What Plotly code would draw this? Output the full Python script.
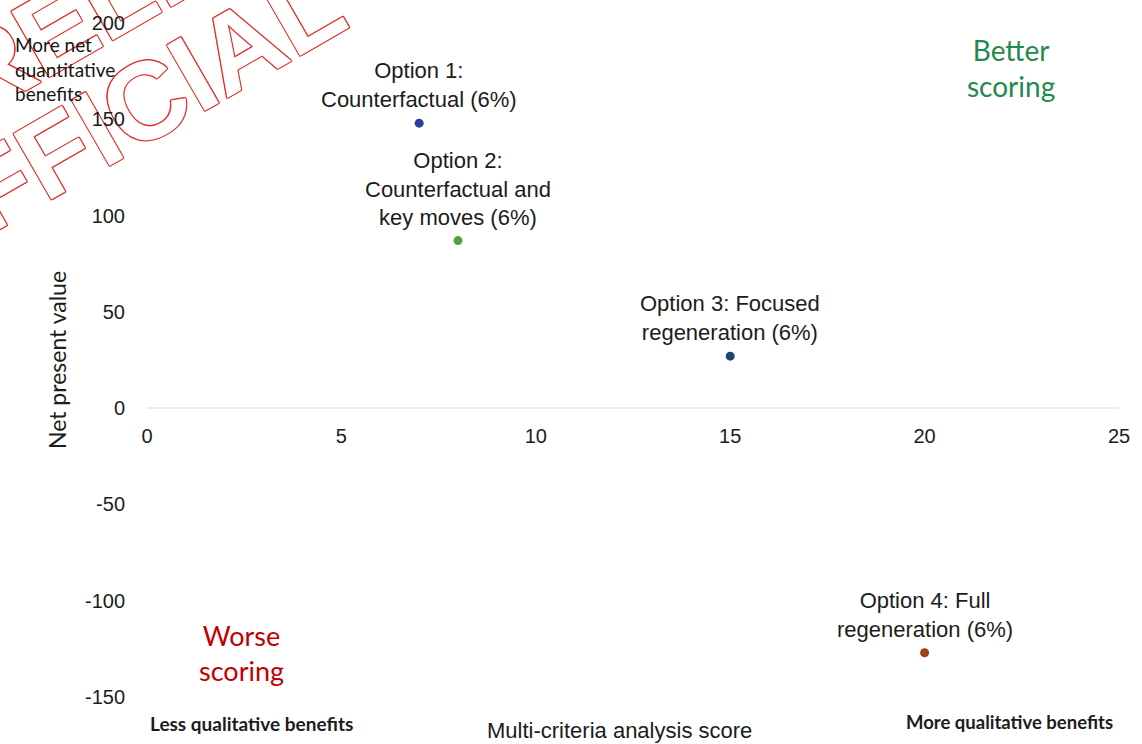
import plotly.graph_objects as go

# ---- data ----
option_labels = [
    "Option 1:<br>Counterfactual (6%)",
    "Option 2:<br>Counterfactual and<br>key moves (6%)",
    "Option 3: Focused<br>regeneration (6%)",
    "Option 4: Full<br>regeneration (6%)",
]
mca_score = [7, 8, 15, 20]
npv = [148, 87, 27, -127]
x_ticks = [0, 5, 10, 15, 20, 25]
y_ticks = [-150, -100, -50, 0, 50, 100, 150, 200]
y_tick_text = ["-150", "-100", "-50", "0", "50", "100", "150", "200"]
watermark_words = ["OFFICIAL", "RELEASED"]

# ---- styles ----
marker_colors = ["#2b3f9c", "#55a03c", "#1f4470", "#a63c14"]
ARIAL = "Liberation Sans, Arial, sans-serif"
CALIBRI = "Lato, Open Sans, sans-serif"
RED_OUTLINE = ", ".join(
    f"{dx}px {dy}px 0 #e5322c" for dx, dy in
    [(1, 0), (-1, 0), (0, 1), (0, -1), (1, 1), (-1, -1), (1, -1), (-1, 1)]
)
watermark_centres = [(-0.040, 0.870), (0.064, 1.140)]

fig = go.Figure()
fig.add_trace(go.Scatter(
    x=mca_score, y=npv, mode="markers",
    marker=dict(size=9, color=marker_colors),
    hoverinfo="skip", showlegend=False, cliponaxis=False,
))

# watermark (drawn below the axes so tick labels stay readable)
shapes = []
for word, (cx, cy) in zip(watermark_words, watermark_centres):
    shapes.append(dict(
        type="rect", xref="paper", yref="paper", layer="below",
        x0=cx - 0.01, x1=cx + 0.01, y0=cy - 0.01, y1=cy + 0.01,
        line=dict(width=0), fillcolor="rgba(0,0,0,0)",
        label=dict(text=word, textangle=-30, textposition="middle center",
                   font=dict(family=ARIAL, size=110, color="white", weight="bold",
                             shadow=RED_OUTLINE)),
    ))

annotations = []
# option labels above their points
for lbl, xv, yv in zip(option_labels, mca_score, npv):
    annotations.append(dict(
        text=lbl, x=xv, y=yv, xref="x", yref="y", showarrow=False,
        xanchor="center", yanchor="bottom", yshift=9,
        font=dict(family=ARIAL, size=22, color="#1c1c1c"),
    ))

annotations += [
    dict(text="More net<br>quantitative<br>benefits", xref="paper", yref="paper",
         x=-0.138, y=0.988, xanchor="left", yanchor="top", align="left", showarrow=False,
         font=dict(family=CALIBRI, size=19, color="#151515")),
    dict(text="Better<br>scoring", xref="paper", yref="paper",
         x=0.889, y=0.988, xanchor="center", yanchor="top", showarrow=False,
         font=dict(family=CALIBRI, size=28, color="#23894f")),
    dict(text="Worse<br>scoring", xref="paper", yref="paper",
         x=0.097, y=0.066, xanchor="center", yanchor="middle", showarrow=False,
         font=dict(family=CALIBRI, size=27, color="#c00000")),
    dict(text="Less qualitative benefits", xref="paper", yref="paper",
         x=0.108, y=-0.04, xanchor="center", yanchor="middle", showarrow=False,
         font=dict(family=CALIBRI, size=19, color="#1c1c1c", weight="bold")),
    dict(text="More qualitative benefits", xref="paper", yref="paper",
         x=0.887, y=-0.037, xanchor="center", yanchor="middle", showarrow=False,
         font=dict(family=CALIBRI, size=18.5, color="#1c1c1c", weight="bold")),
    dict(text="Multi-criteria analysis score", xref="paper", yref="paper",
         x=0.486, y=-0.05, xanchor="center", yanchor="middle", showarrow=False,
         font=dict(family=ARIAL, size=22, color="#1c1c1c")),
]

fig.update_layout(
    width=1142, height=744,
    margin=dict(l=147, r=17, t=22, b=47),
    paper_bgcolor="white", plot_bgcolor="white",
    annotations=annotations, shapes=shapes,
    xaxis=dict(
        range=[0, 25], tickvals=x_ticks, showgrid=False, zeroline=False,
        showline=True, linecolor="#ececec", linewidth=2,
        anchor="free", position=150 / 350,
        tickfont=dict(family=ARIAL, size=20, color="#1c1c1c"),
        ticks="", ticklabelstandoff=10, fixedrange=True,
    ),
    yaxis=dict(
        range=[-150, 200], tickvals=y_ticks, ticktext=y_tick_text,
        showgrid=False, zeroline=False, showline=False,
        tickfont=dict(family=ARIAL, size=20, color="#1c1c1c"),
        ticks="", ticklabelstandoff=21, fixedrange=True,
        title=dict(text="Net present value", standoff=11,
                   font=dict(family=CALIBRI, size=23, color="#1c1c1c")),
    ),
)

fig.write_html("out.html")
